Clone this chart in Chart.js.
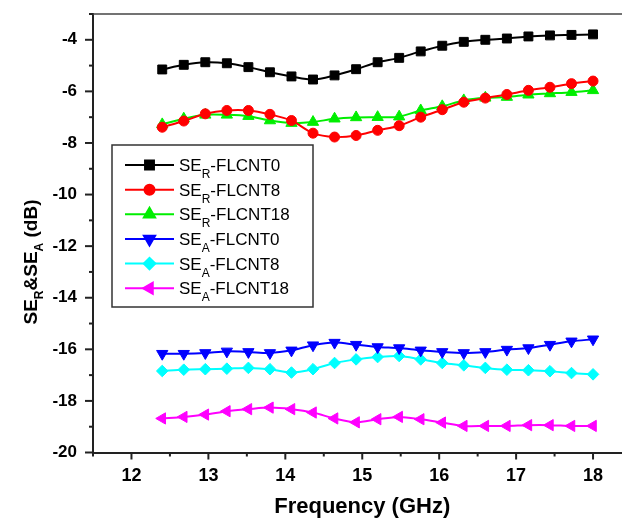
<!DOCTYPE html>
<html>
<head>
<meta charset="utf-8">
<script src="https://cdn.jsdelivr.net/npm/chart.js@4.4.1/dist/chart.umd.min.js"></script>
<style>
    html, body { margin: 0; padding: 0; overflow: hidden; background: #fff; }
    #graficoContainer { position: relative; width: 640px; height: 520px; }
</style>
</head>
<body>
<div id="graficoContainer"><canvas id="historialChart"></canvas></div>
<script>
// Frecuencias (GHz)
const frecuencias = [12.40, 12.68, 12.96, 13.24, 13.52, 13.80, 14.08, 14.36, 14.64, 14.92, 15.20,
    15.48, 15.76, 16.04, 16.32, 16.60, 16.88, 17.16, 17.44, 17.72, 18.00];

// Valores (dB)
const seR_FLCNT0 = [-5.15, -4.97, -4.87, -4.91, -5.06, -5.26, -5.42, -5.54, -5.38, -5.14, -4.87,
    -4.70, -4.45, -4.23, -4.08, -4.00, -3.95, -3.87, -3.83, -3.81, -3.79];
const seR_FLCNT8 = [-7.39, -7.15, -6.87, -6.74, -6.74, -6.89, -7.13, -7.62, -7.77, -7.71, -7.51,
    -7.33, -7.00, -6.71, -6.42, -6.26, -6.12, -5.96, -5.84, -5.70, -5.60];
const seR_FLCNT18 = [-7.28, -7.06, -6.91, -6.91, -6.96, -7.13, -7.23, -7.19, -7.06, -7.01, -7.00,
    -6.98, -6.74, -6.58, -6.35, -6.25, -6.22, -6.13, -6.08, -6.03, -5.96];
const seA_FLCNT0 = [-16.17, -16.17, -16.14, -16.08, -16.10, -16.14, -16.04, -15.84, -15.74, -15.82, -15.91,
    -15.95, -16.04, -16.10, -16.14, -16.10, -16.01, -15.95, -15.82, -15.69, -15.61];
const seA_FLCNT8 = [-16.84, -16.79, -16.77, -16.75, -16.72, -16.77, -16.90, -16.77, -16.53, -16.39, -16.30,
    -16.26, -16.39, -16.53, -16.62, -16.72, -16.79, -16.81, -16.85, -16.92, -16.97];
const seA_FLCNT18 = [-18.68, -18.62, -18.53, -18.40, -18.32, -18.26, -18.32, -18.45, -18.68, -18.83, -18.71,
    -18.62, -18.71, -18.84, -18.97, -18.97, -18.97, -18.94, -18.94, -18.97, -18.97];

// Nombres: lo que va tras "_" es subíndice hasta el guion
const nombresSeries = ['SE_R-FLCNT0', 'SE_R-FLCNT8', 'SE_R-FLCNT18', 'SE_A-FLCNT0', 'SE_A-FLCNT8', 'SE_A-FLCNT18'];
const ticksX = [12, 13, 14, 15, 16, 17, 18];
const ticksY = [-20, -18, -16, -14, -12, -10, -8, -6, -4];

const series = [seR_FLCNT0, seR_FLCNT8, seR_FLCNT18, seA_FLCNT0, seA_FLCNT8, seA_FLCNT18];
const colores = ['#000000', '#ff0000', '#00ee00', '#0000ff', '#00ffff', '#ff00ff'];
const marcadores = ['rect', 'circle', 'triangle', 'triangle', 'rectRot', 'triangle'];
const rotaciones = [0, 0, 0, 180, 0, -90];
const radios = [6.3, 5, 6.5, 6.5, 5.8, 6.5];

const fuenteBase = '"Liberation Sans", Arial, sans-serif';

// Separa "SE_R-FLCNT0" en partes normales y subíndices
function partesNombre(nombre) {
    const m = nombre.match(/^([^_]*)_(.)(.*)$/);
    if (!m) return [[nombre, false]];
    return [[m[1], false], [m[2], true], [m[3], false]];
}

function dibujarTexto(ctx, partes, x, y, fNormal, fSub, bajada) {
    let cx = x;
    partes.forEach(([texto, esSub]) => {
        ctx.font = esSub ? fSub : fNormal;
        ctx.fillText(texto, cx, esSub ? y + bajada : y);
        cx += ctx.measureText(texto).width;
    });
}

function anchoTexto(ctx, partes, fNormal, fSub) {
    let w = 0;
    partes.forEach(([texto, esSub]) => {
        ctx.font = esSub ? fSub : fNormal;
        w += ctx.measureText(texto).width;
    });
    return w;
}

const extras = {
    id: 'extras',
    afterDraw(chart) {
        const ctx = chart.ctx;
        const area = chart.chartArea;
        const ejeX = chart.scales.x;
        const ejeY = chart.scales.y;
        ctx.save();

        // Marcas de los ejes (mayores y menores)
        ctx.strokeStyle = '#222';
        ctx.lineWidth = 2;
        ejeX.ticks.forEach(t => {
            const px = ejeX.getPixelForValue(t.value);
            const largo = ticksX.includes(t.value) ? 7 : 4;
            ctx.beginPath();
            ctx.moveTo(px, area.bottom);
            ctx.lineTo(px, area.bottom + largo);
            ctx.stroke();
        });
        ejeY.ticks.forEach(t => {
            const py = ejeY.getPixelForValue(t.value);
            const largo = ticksY.includes(t.value) ? 8 : 4;
            ctx.beginPath();
            ctx.moveTo(area.left - largo, py);
            ctx.lineTo(area.left, py);
            ctx.stroke();
        });

        // Borde superior
        ctx.strokeStyle = '#444';
        ctx.lineWidth = 1.5;
        ctx.beginPath();
        ctx.moveTo(area.left, area.top);
        ctx.lineTo(area.right, area.top);
        ctx.stroke();

        // Leyenda
        const cajaX = 112, cajaY = 145, cajaW = 201, cajaH = 162;
        ctx.fillStyle = '#fff';
        ctx.fillRect(cajaX, cajaY, cajaW, cajaH);
        ctx.strokeStyle = '#333';
        ctx.lineWidth = 1.5;
        ctx.strokeRect(cajaX, cajaY, cajaW, cajaH);
        nombresSeries.forEach((nombre, i) => {
            const yy = 165 + i * 24.65;
            ctx.strokeStyle = colores[i];
            ctx.lineWidth = 2;
            ctx.beginPath();
            ctx.moveTo(125, yy);
            ctx.lineTo(174, yy);
            ctx.stroke();
            ctx.fillStyle = colores[i];
            Chart.helpers.drawPoint(ctx, {
                pointStyle: marcadores[i], rotation: rotaciones[i], radius: radios[i], borderWidth: 1
            }, 149.5, yy);
            ctx.fill();
            ctx.fillStyle = '#000';
            ctx.textBaseline = 'alphabetic';
            ctx.textAlign = 'left';
            dibujarTexto(ctx, partesNombre(nombre), 179, yy + 6, '17px ' + fuenteBase, '12px ' + fuenteBase, 7);
        });

        // Título del eje Y con subíndices
        const partesY = [['SE', false], ['R', true], ['&SE', false], ['A', true], [' (dB)', false]];
        const fN = 'bold 19px ' + fuenteBase;
        const fS = 'bold 12px ' + fuenteBase;
        const w = anchoTexto(ctx, partesY, fN, fS);
        ctx.translate(37, 262);
        ctx.rotate(-Math.PI / 2);
        ctx.fillStyle = '#000';
        ctx.textAlign = 'left';
        ctx.textBaseline = 'alphabetic';
        dibujarTexto(ctx, partesY, -w / 2, 0, fN, fS, 6);

        ctx.restore();
    }
};

const ctx = document.getElementById('historialChart').getContext('2d');

new Chart(ctx, {
    type: 'line',
    data: {
        datasets: series.map((valores, i) => ({
            label: nombresSeries[i],
            data: frecuencias.map((f, j) => ({ x: f, y: valores[j] })),
            borderColor: colores[i],
            backgroundColor: colores[i],
            borderWidth: 2,
            pointStyle: marcadores[i],
            pointRotation: rotaciones[i],
            pointRadius: radios[i],
            pointBorderWidth: 1,
            pointBackgroundColor: colores[i],
            pointBorderColor: colores[i],
            tension: 0.3,
            fill: false,
        })),
    },
    options: {
        responsive: true,
        maintainAspectRatio: false,
        animation: false,
        layout: { padding: { left: 0, top: 14, right: 8.5, bottom: 0 } },
        plugins: {
            legend: { display: false },
            tooltip: { enabled: false },
        },
        scales: {
            x: {
                type: 'linear',
                min: 11.5,
                max: 18.5,
                afterFit: (eje) => {
                    eje.height = 67.5;
                    eje.paddingLeft = 0;
                    eje.paddingRight = 0;
                },
                grid: { display: false, drawTicks: false },
                border: { display: true, color: '#222', width: 2 },
                ticks: {
                    stepSize: 0.5,
                    autoSkip: false,
                    maxRotation: 0,
                    padding: 13,
                    color: '#000',
                    font: { family: fuenteBase, size: 18, weight: 'bold' },
                    callback: (v) => ticksX.includes(v) ? String(v) : '',
                },
                title: {
                    display: true,
                    text: 'Frequency (GHz)',
                    color: '#000',
                    padding: { top: 0, bottom: 0 },
                    font: { family: fuenteBase, size: 22, weight: 'bold' },
                },
            },
            y: {
                min: -20,
                max: -3,
                afterFit: (eje) => {
                    eje.width = 93;
                    eje.paddingTop = 0;
                    eje.paddingBottom = 0;
                },
                grid: { display: false, drawTicks: false },
                border: { display: true, color: '#222', width: 2 },
                ticks: {
                    stepSize: 1,
                    autoSkip: false,
                    padding: 16,
                    color: '#000',
                    font: { family: fuenteBase, size: 17, weight: 'bold' },
                    callback: (v) => ticksY.includes(v) ? String(v) : '',
                },
            },
        },
    },
    plugins: [extras],
});
</script>
</body>
</html>
